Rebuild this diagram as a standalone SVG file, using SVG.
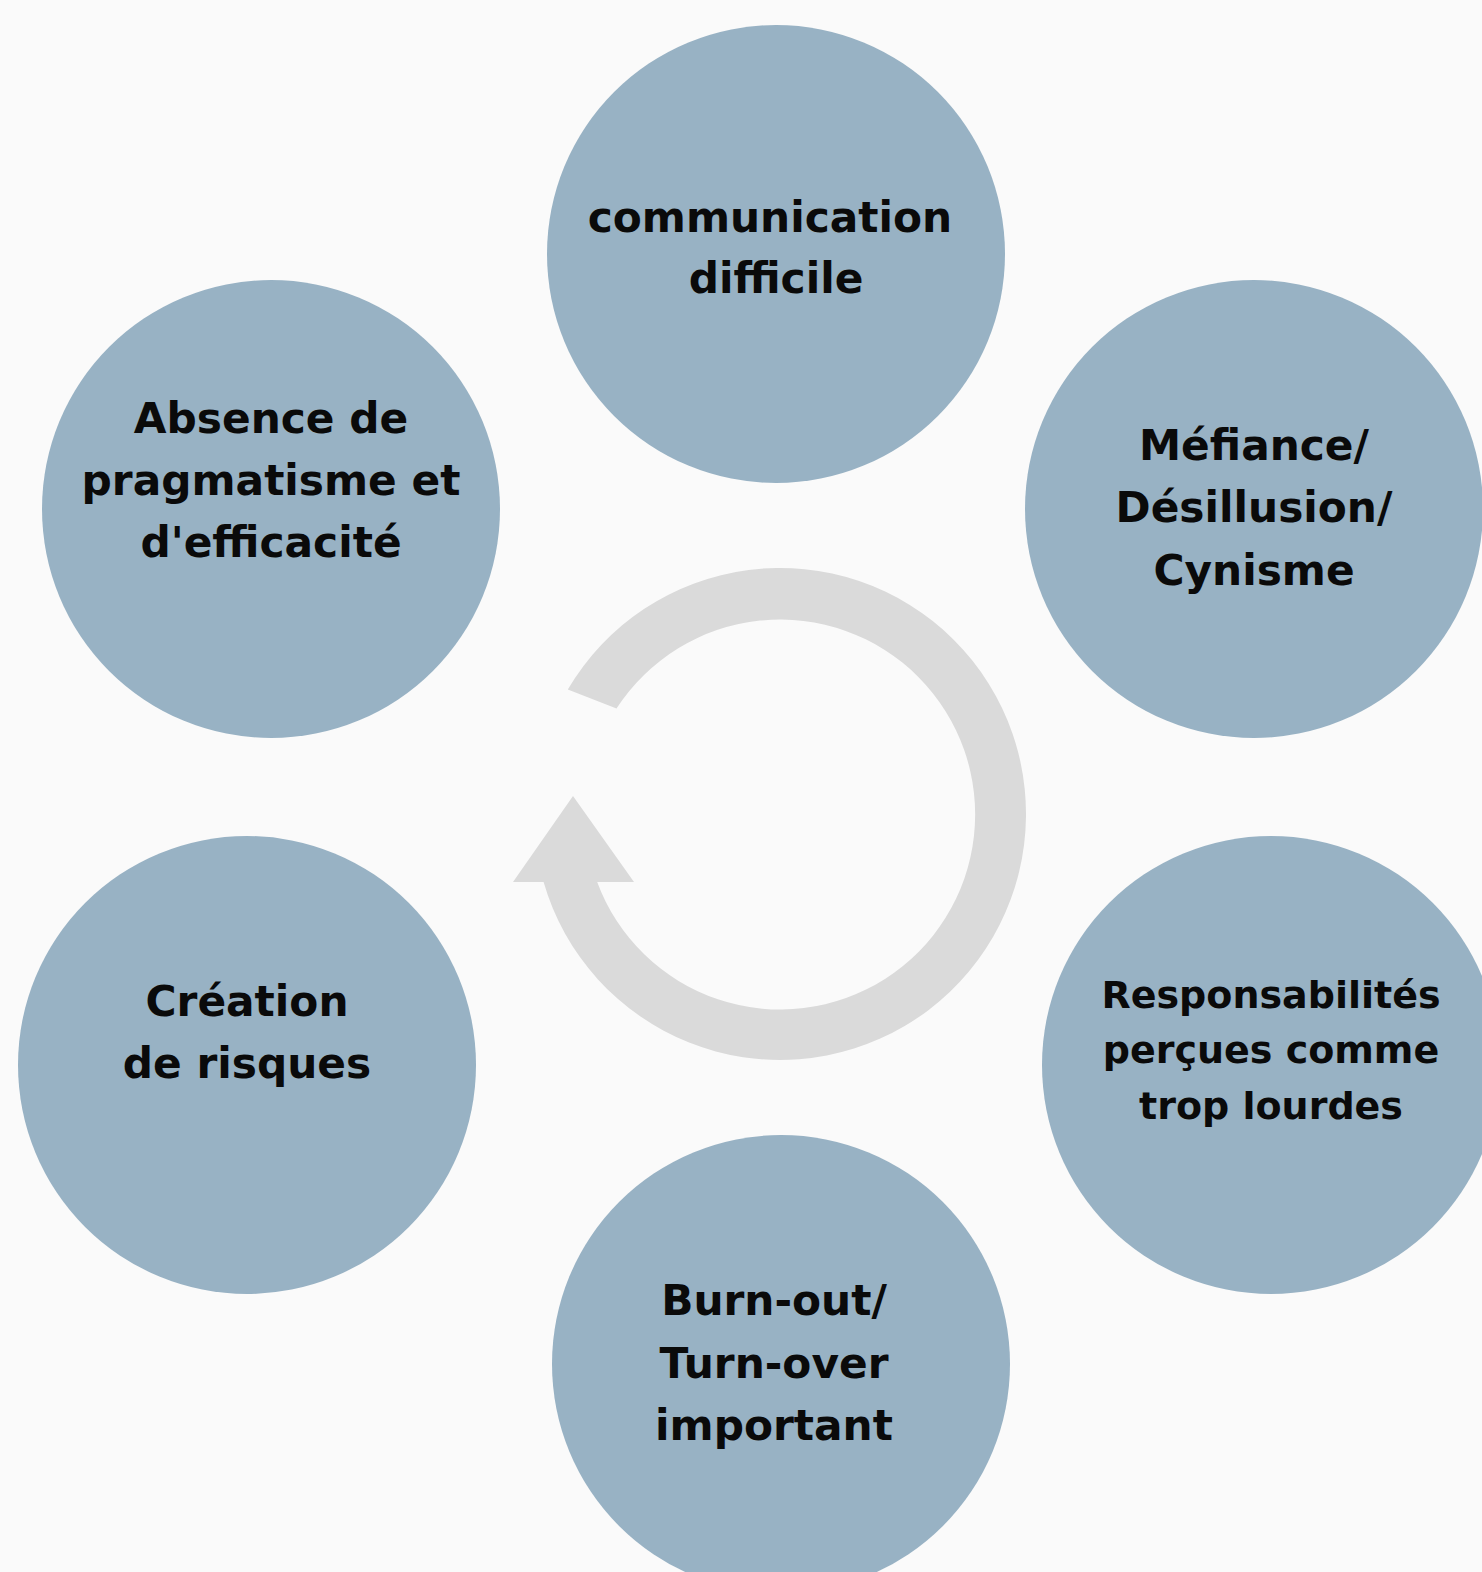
<svg xmlns="http://www.w3.org/2000/svg" width="1482" height="1572" viewBox="0 0 1482 1572">
<style>
.node{fill:#98B2C4}
.lbl{font-family:"DejaVu Sans","Liberation Sans",sans-serif;font-weight:bold;font-size:42.3px;fill:#0a0a0a;text-anchor:middle}
.sm{font-size:38px}
.ring{fill:#DADADA}
</style>
<rect width="1482" height="1572" fill="#FAFAFA"/>
<g id="connectors">
<path class="ring" d="M567.8,689.5 A246,246 0 1 1 543.6,882 L513,882 L573,796 L634,882 L597.2,882 A195,195 0 1 0 616.5,708.5 Z"/>
</g>
<g id="n1"><circle class="node" cx="776" cy="254" r="229"/>
<text class="lbl" x="770" y="232">communication</text>
<text class="lbl" x="776" y="293">difficile</text></g>
<g id="n2"><circle class="node" cx="1254" cy="509" r="229"/>
<text class="lbl" x="1254" y="460">Méfiance/</text>
<text class="lbl" x="1254" y="522">Désillusion/</text>
<text class="lbl" x="1254" y="585">Cynisme</text></g>
<g id="n3"><circle class="node" cx="1271" cy="1065" r="229"/>
<text class="lbl sm" x="1271" y="1008">Responsabilités</text>
<text class="lbl sm" x="1271" y="1063">perçues comme</text>
<text class="lbl sm" x="1271" y="1119">trop lourdes</text></g>
<g id="n4"><circle class="node" cx="781" cy="1364" r="229"/>
<text class="lbl" x="774" y="1315">Burn-out/</text>
<text class="lbl" x="774" y="1378">Turn-over</text>
<text class="lbl" x="774" y="1440">important</text></g>
<g id="n5"><circle class="node" cx="247" cy="1065" r="229"/>
<text class="lbl" x="247" y="1016">Création</text>
<text class="lbl" x="247" y="1078">de risques</text></g>
<g id="n6"><circle class="node" cx="271" cy="509" r="229"/>
<text class="lbl" x="271" y="433">Absence de</text>
<text class="lbl" x="271" y="495">pragmatisme et</text>
<text class="lbl" x="271" y="557">d'efficacité</text></g>
</svg>
